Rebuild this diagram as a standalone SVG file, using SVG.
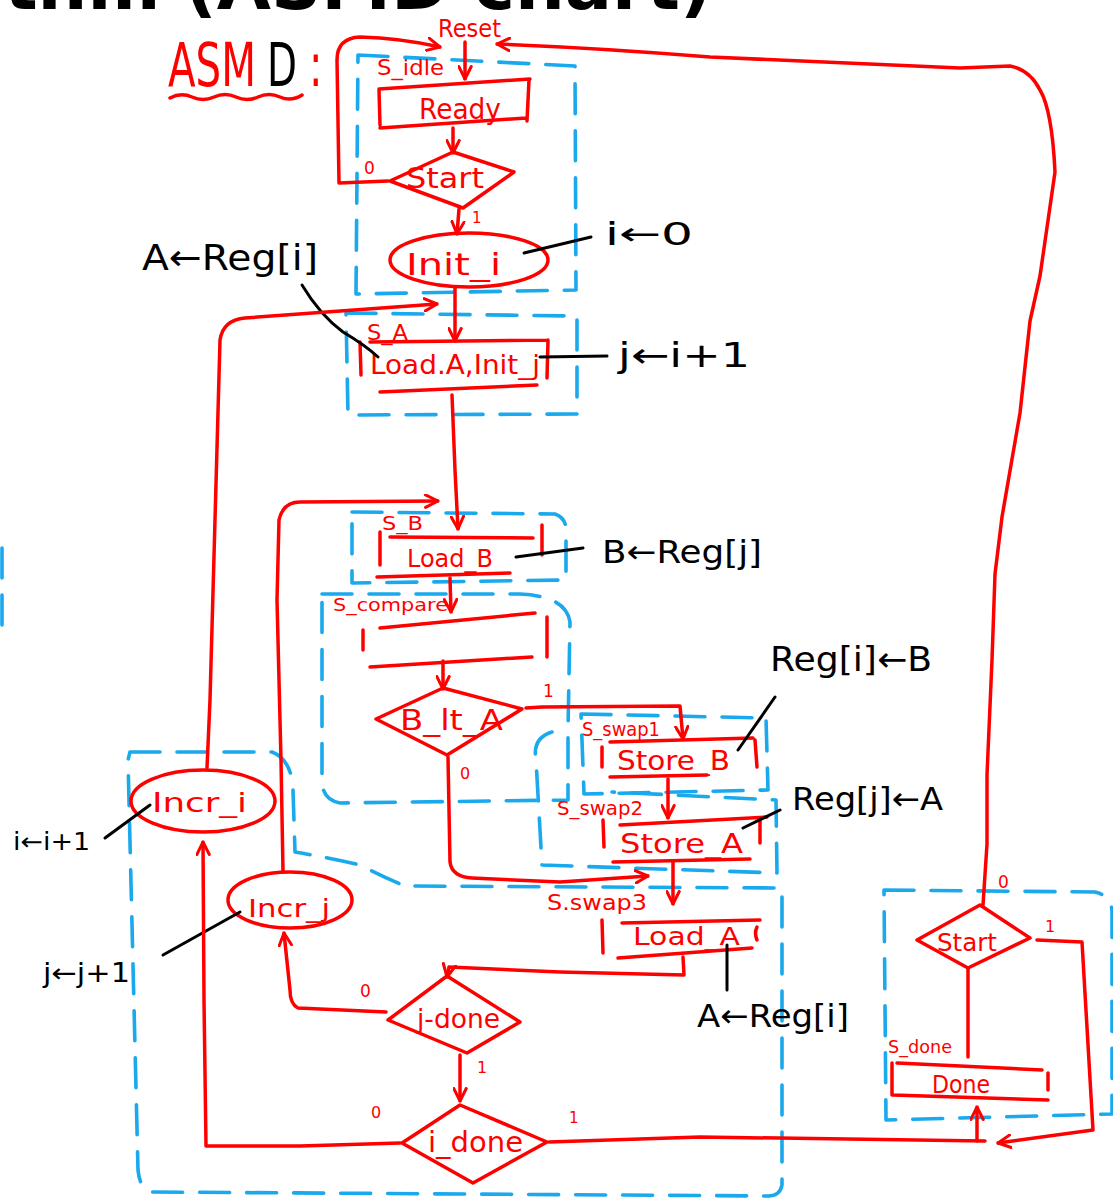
<svg xmlns="http://www.w3.org/2000/svg" width="1113" height="1204" viewBox="0 0 1113 1204">
<defs>
<style>
.r{fill:none;stroke:#f00;stroke-width:3.5;stroke-linecap:round;stroke-linejoin:round}
.b{fill:none;stroke:#1aa9ec;stroke-width:3.6;stroke-dasharray:30 17;stroke-linecap:round;stroke-linejoin:round}
.k{fill:none;stroke:#000;stroke-width:3;stroke-linecap:round;stroke-linejoin:round}
.rt{fill:#f00;font-family:"DejaVu Sans",sans-serif}
.kt{fill:#000;font-family:"DejaVu Sans",sans-serif}
.lbl{font-size:17px}
</style>
<marker id="a" viewBox="0 0 12 12" refX="11" refY="6" markerWidth="15" markerHeight="15" markerUnits="userSpaceOnUse" orient="auto">
<path d="M1,1 L11,6 L1,11" fill="none" stroke="#f00" stroke-width="2.4" stroke-linecap="round" stroke-linejoin="round"/>
</marker>
</defs>
<rect width="1113" height="1204" fill="#fff"/>

<!-- page heading, cut off at the top edge -->
<text x="712" y="9" font-family="'DejaVu Sans',sans-serif" font-weight="bold" font-size="70" text-anchor="end" fill="#000">thm (ASMD chart)</text>

<!-- chart caption: tall, narrow hand lettering -->
<g id="caption">
<text class="rt" font-size="40" transform="translate(168,86) scale(1,1.5)" textLength="88" lengthAdjust="spacingAndGlyphs">ASM</text>
<text class="kt" font-size="40" transform="translate(267,86) scale(1,1.5)" textLength="30" lengthAdjust="spacingAndGlyphs">D</text>
<text class="rt" font-size="40" transform="translate(309,86) scale(1,1.5)">:</text>
<path class="r" d="M170,98 Q181,92 192,97 T214,97 T236,97 T258,97 T280,97 T302,95"/>
</g>

<!-- state boxes (blue dashed) -->
<g id="blocks">
<path class="b" d="M358,55 L575,66 L576,290 L356,294 Z"/>
<path class="b" d="M346,313 L577,316 L577,414 L348,415 Z"/>
<path class="b" d="M352,512 L555,514 Q566,518 566,530 L566,580 L352,583 Z"/>
<path class="b" d="M322,594 L520,594 Q566,596 570,622 L568,730 L568,800 L340,803 Q322,800 322,780 Z"/>
<path class="b" d="M581,714 L766,718 L768,790 L584,794 Z"/>
<path class="b" d="M552,732 Q532,738 536,760 L542,865 L777,873 L776,800 L612,792"/>
<path class="b" d="M130,752 L272,752 Q292,760 293,790 L295,852 Q330,858 360,865 Q385,878 405,886 L782,888 L782,1185 Q780,1196 768,1196 L152,1192 Q140,1190 138,1170 L128,760 Z"/>
<path class="b" d="M884,890 L1095,892 Q1112,896 1112,912 L1112,1114 L886,1120 Z"/>
<path class="b" d="M2,548 L2,640"/>
</g>

<g id="reset">
<text class="rt" x="438" y="37" font-size="24" textLength="63" lengthAdjust="spacingAndGlyphs">Reset</text>
</g>

<g id="s-idle">
<text class="rt" x="377" y="75" font-size="22" textLength="67" lengthAdjust="spacingAndGlyphs">S_idle</text>
<path class="r" d="M379,89 L530,79 M529,80 L527,121 M380,128 L526,118 M379,90 L380,125"/>
<text class="rt" x="419" y="119" font-size="29" textLength="82" lengthAdjust="spacingAndGlyphs">Ready</text>
</g>

<g id="start-1">
<path class="r" d="M390,181 L453,152 L514,172 L463,208 Z"/>
<text class="rt" x="406" y="188" font-size="28" textLength="78" lengthAdjust="spacingAndGlyphs">Start</text>
<text class="rt lbl" x="364" y="174">0</text>
<text class="rt" x="472" y="223" font-size="15">1</text>
</g>

<g id="init-i">
<ellipse class="r" cx="469" cy="260" rx="79" ry="27"/>
<text class="rt" x="406" y="275" font-size="30" textLength="95" lengthAdjust="spacingAndGlyphs">Init_i</text>
<path class="k" d="M524,253 L591,237"/>
<text class="kt" x="605" y="245" font-size="32" textLength="88" lengthAdjust="spacingAndGlyphs">i←0</text>
</g>

<g id="s-a">
<text class="rt" x="367" y="340" font-size="22" textLength="41" lengthAdjust="spacingAndGlyphs">S_A</text>
<path class="r" d="M370,342 L548,340 M548,340 L547,378 M380,392 L537,385 M360,342 L361,375"/>
<text class="rt" x="370" y="374" font-size="26" textLength="170" lengthAdjust="spacingAndGlyphs">Load.A,Init_j</text>
<path class="k" d="M540,357 L607,356"/>
<text class="kt" x="618" y="367" font-size="34" textLength="132" lengthAdjust="spacingAndGlyphs">j←i+1</text>
<path class="k" d="M302,285 Q320,315 343,332 Q365,345 378,357"/>
<text class="kt" x="142" y="270" font-size="36" textLength="176" lengthAdjust="spacingAndGlyphs">A←Reg[i]</text>
</g>

<g id="s-b">
<text class="rt" x="382" y="530" font-size="20" textLength="41" lengthAdjust="spacingAndGlyphs">S_B</text>
<path class="r" d="M390,537 L533,538 M542,525 L542,555 M377,577 L510,573 M380,532 L380,565"/>
<text class="rt" x="407" y="567" font-size="24" textLength="86" lengthAdjust="spacingAndGlyphs">Load_B</text>
<path class="k" d="M516,557 L583,548"/>
<text class="kt" x="602" y="563" font-size="32" textLength="160" lengthAdjust="spacingAndGlyphs">B←Reg[j]</text>
</g>

<g id="s-compare">
<text class="rt" x="333" y="611" font-size="17" textLength="115" lengthAdjust="spacingAndGlyphs">S_compare</text>
<path class="r" d="M380,628 L535,613 M547,617 L547,657 M370,667 L532,657 M363,630 L363,650"/>
</g>

<g id="b-lt-a">
<path class="r" d="M376,719 L443,688 L522,709 L447,755 Z"/>
<text class="rt" x="400" y="730" font-size="28" textLength="103" lengthAdjust="spacingAndGlyphs">B_lt_A</text>
<text class="rt lbl" x="543" y="697">1</text>
<text class="rt" x="460" y="779" font-size="16">0</text>
</g>

<g id="s-swap1">
<text class="rt" x="582" y="736" font-size="19" textLength="78" lengthAdjust="spacingAndGlyphs">S_swap1</text>
<path class="r" d="M610,742 L753,738 M755,740 L757,767 M610,777 L707,775 M602,747 L602,767"/>
<text class="rt" x="617" y="770" font-size="27" textLength="113" lengthAdjust="spacingAndGlyphs">Store_B</text>
<path class="k" d="M738,750 L775,697"/>
<text class="kt" x="770" y="671" font-size="34" textLength="162" lengthAdjust="spacingAndGlyphs">Reg[i]←B</text>
</g>

<g id="s-swap2">
<text class="rt" x="557" y="815" font-size="19" textLength="86" lengthAdjust="spacingAndGlyphs">S_swap2</text>
<path class="r" d="M620,825 L767,817 M760,820 L760,843 M613,862 L750,859 M603,820 L604,847"/>
<text class="rt" x="620" y="853" font-size="27" textLength="123" lengthAdjust="spacingAndGlyphs">Store_A</text>
<path class="k" d="M743,828 L780,810"/>
<text class="kt" x="792" y="810" font-size="32" textLength="151" lengthAdjust="spacingAndGlyphs">Reg[j]←A</text>
</g>

<g id="s-swap3">
<text class="rt" x="547" y="910" font-size="22" textLength="100" lengthAdjust="spacingAndGlyphs">S.swap3</text>
<path class="r" d="M622,923 L760,920 M757,927 Q754,933 757,940 M618,958 L752,948 M602,920 L603,953"/>
<text class="rt" x="633" y="945" font-size="24" textLength="107" lengthAdjust="spacingAndGlyphs">Load_A</text>
<path class="k" d="M727,945 L727,990"/>
<text class="kt" x="697" y="1027" font-size="32" textLength="152" lengthAdjust="spacingAndGlyphs">A←Reg[i]</text>
</g>

<g id="j-done">
<path class="r" d="M388,1020 L447,976 L520,1022 L467,1053 Z"/>
<text class="rt" x="417" y="1028" font-size="26" textLength="83" lengthAdjust="spacingAndGlyphs">j-done</text>
<text class="rt lbl" x="360" y="997">0</text>
<text class="rt" x="477" y="1073" font-size="16">1</text>
</g>

<g id="i-done">
<path class="r" d="M402,1143 L460,1105 L547,1142 L473,1183 Z"/>
<text class="rt" x="428" y="1152" font-size="28" textLength="95" lengthAdjust="spacingAndGlyphs">i_done</text>
<text class="rt" x="371" y="1118" font-size="16">0</text>
<text class="rt" x="569" y="1123" font-size="15">1</text>
</g>

<g id="incr-i">
<ellipse class="r" cx="203" cy="801" rx="72" ry="31"/>
<text class="rt" x="152" y="812" font-size="27" textLength="95" lengthAdjust="spacingAndGlyphs">Incr_i</text>
<path class="k" d="M105,838 L150,805"/>
<text class="kt" x="13" y="850" font-size="24" textLength="77" lengthAdjust="spacingAndGlyphs">i←i+1</text>
</g>

<g id="incr-j">
<ellipse class="r" cx="290" cy="900" rx="62" ry="28"/>
<text class="rt" x="248" y="917" font-size="25" textLength="82" lengthAdjust="spacingAndGlyphs">Incr_j</text>
<path class="k" d="M163,955 L240,912"/>
<text class="kt" x="43" y="982" font-size="26" textLength="87" lengthAdjust="spacingAndGlyphs">j←j+1</text>
</g>

<g id="start-2">
<path class="r" d="M917,940 L980,905 L1030,938 L968,968 Z"/>
<text class="rt" x="937" y="951" font-size="25" textLength="60" lengthAdjust="spacingAndGlyphs">Start</text>
<text class="rt lbl" x="998" y="888">0</text>
<text class="rt" x="1045" y="932" font-size="16">1</text>
</g>

<g id="s-done">
<text class="rt" x="888" y="1053" font-size="18" textLength="64" lengthAdjust="spacingAndGlyphs">S_done</text>
<path class="r" d="M897,1063 L1042,1070 M1048,1073 L1048,1090 M893,1095 L1048,1100 M892,1063 L892,1095"/>
<text class="rt" x="932" y="1093" font-size="25" textLength="58" lengthAdjust="spacingAndGlyphs">Done</text>
</g>

<!-- transitions -->
<g id="connectors">
<path class="r" d="M465,42 L465,79" marker-end="url(#a)"/>
<path class="r" d="M388,181 L339,183 L337,60 Q337,38 360,37 Q400,38 440,47" marker-end="url(#a)"/>
<path class="r" d="M983,905 L987,844 L987,775 L992,660 L995,574 L1002,517 L1020,413 L1030,321 L1040,276 L1055,172 Q1052,110 1040,90 Q1030,70 1010,66 L960,68 L710,57 Q600,48 497,44" marker-end="url(#a)"/>
<path class="r" d="M453,128 L453,153" marker-end="url(#a)"/>
<path class="r" d="M459,209 L457,234" marker-end="url(#a)"/>
<path class="r" d="M455,288 L455,341" marker-end="url(#a)"/>
<path class="r" d="M452,395 L455,470 L458,529" marker-end="url(#a)"/>
<path class="r" d="M450,578 L451,612" marker-end="url(#a)"/>
<path class="r" d="M443,661 L443,689" marker-end="url(#a)"/>
<path class="r" d="M526,708 L542,707 L680,706 L683,739" marker-end="url(#a)"/>
<path class="r" d="M448,757 L450,862 Q452,877 472,878 L560,882 L648,876" marker-end="url(#a)"/>
<path class="r" d="M668,779 L668,818" marker-end="url(#a)"/>
<path class="r" d="M673,862 L673,904" marker-end="url(#a)"/>
<path class="r" d="M683,957 L684,975 L560,972 L449,967 L447,977" marker-end="url(#a)"/>
<path class="r" d="M460,1055 L460,1101" marker-end="url(#a)"/>
<path class="r" d="M386,1012 L298,1008 Q290,1004 290,990 L284,933" marker-end="url(#a)"/>
<path class="r" d="M400,1143 L300,1146 L206,1146 L204,1000 L203,842" marker-end="url(#a)"/>
<path class="r" d="M549,1142 L700,1137 L985,1141"/>
<path class="r" d="M977,1141 L977,1107" marker-end="url(#a)"/>
<path class="r" d="M207,768 L210,700 L220,340 Q223,320 245,318 L437,304" marker-end="url(#a)"/>
<path class="r" d="M283,871 L281,760 L277,600 L279,520 Q283,502 300,502 L438,501" marker-end="url(#a)"/>
<path class="r" d="M968,968 L968,1057"/>
<path class="r" d="M1037,940 L1082,942 L1093,1130 L998,1143" marker-end="url(#a)"/>
</g>
</svg>
